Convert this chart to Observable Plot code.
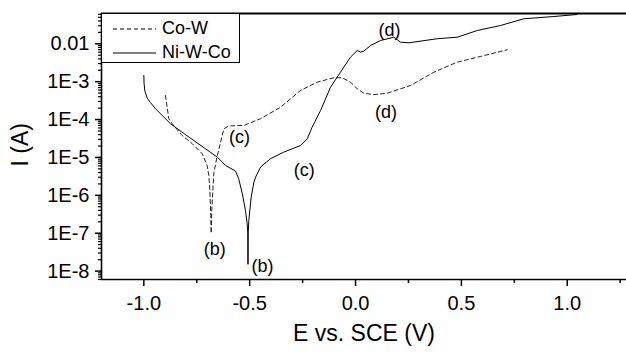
<!DOCTYPE html>
<html>
<head>
<meta charset="utf-8">
<script src="https://cdn.jsdelivr.net/npm/d3@7"></script>
<script src="https://cdn.jsdelivr.net/npm/@observablehq/plot@0.6"></script>
<style>
  body { margin: 0; background: #fff; }
  #chart { position: relative; width: 626px; height: 353px; font-family: "Liberation Sans", Arial, sans-serif; }
  #legend { position: absolute; left: 101px; top: 13px; width: 139px; height: 50px; box-sizing: border-box; border: 1.5px solid #000; background: #fff; }
  #legend .row { position: absolute; left: 0; height: 24px; width: 100%; }
  #legend svg { position: absolute; left: 11px; top: 7px; }
  #legend span { position: absolute; left: 60px; top: 1px; font-size: 18px; line-height: 20px; color: #000; }
</style>
</head>
<body>
<div id="chart"></div>
<script>
// ---------- data ----------
const seriesNames = ["Co-W", "Ni-W-Co"];

// Ni-W-Co (solid line): potential E (V vs. SCE) and current I (A)
const niE = [-1.000, -0.999, -0.995, -0.984, -0.969, -0.945, -0.874, -0.787, -0.709, -0.653, -0.614,
             -0.567, -0.552, -0.535, -0.520, -0.512, -0.509, -0.508, -0.507, -0.504, -0.493,
             -0.480, -0.472, -0.449, -0.402, -0.339, -0.260, -0.228, -0.205, -0.181, -0.165,
             -0.118, -0.071, -0.024, 0.008, 0.024, 0.039, 0.071, 0.118, 0.181, 0.213,
             0.252, 0.386, 0.480, 0.575, 0.685, 0.795, 0.937, 1.047];
const niI = [1.46e-3, 9.0e-4, 5.6e-4, 3.7e-4, 2.82e-4, 1.93e-4, 7.74e-5, 3.44e-5, 1.70e-5, 1.02e-5, 6.15e-6,
             4.37e-6, 2.75e-6, 1.12e-6, 4.00e-7, 1.82e-7, 1.0e-7, 1.51e-8, 1.0e-7, 2.18e-7, 8.97e-7,
             2.23e-6, 3.02e-6, 5.55e-6, 9.25e-6, 1.38e-5, 2.07e-5, 3.11e-5, 6.30e-5, 1.16e-4, 1.74e-4,
             7.16e-4, 1.78e-3, 4.43e-3, 6.65e-3, 6.00e-3, 6.38e-3, 9.02e-3, 1.22e-2, 1.49e-2, 1.10e-2,
             1.06e-2, 1.36e-2, 1.49e-2, 2.24e-2, 3.04e-2, 4.57e-2, 5.25e-2, 5.93e-2];

// Co-W (dashed line)
const coE = [-0.898, -0.882, -0.866, -0.819, -0.771, -0.724, -0.701, -0.693, -0.688, -0.684,
             -0.682, -0.679, -0.674, -0.669, -0.655, -0.638, -0.622, -0.598, -0.528, -0.449,
             -0.354, -0.260, -0.181, -0.103, -0.063, -0.024, 0.008, 0.039, 0.086, 0.150,
             0.260, 0.370, 0.480, 0.590, 0.717];
const coI = [4.31e-4, 1.05e-4, 7.74e-5, 3.80e-5, 2.30e-5, 1.25e-5, 6.15e-6, 3.35e-6, 1.35e-6, 2.95e-7,
             1.0e-7, 3.98e-7, 1.35e-6, 4.02e-6, 1.0e-5, 2.42e-5, 5.71e-5, 6.78e-5, 6.98e-5, 1.05e-4,
             2.12e-4, 5.86e-4, 9.70e-4, 1.27e-3, 1.27e-3, 9.70e-4, 6.50e-4, 4.98e-4, 4.54e-4, 4.98e-4,
             7.94e-4, 1.78e-3, 3.27e-3, 4.62e-3, 6.95e-3];

// annotations
const noteText = ["(b)", "(b)", "(c)", "(c)", "(d)", "(d)"];
const noteE    = [-0.665, -0.440, -0.548, -0.242, 0.161, 0.144];
const noteI    = [3.7e-8, 1.35e-8, 3.47e-5, 4.57e-6, 2.34e-2, 1.58e-4];

// axes
const xDomain = [-1.2, 1.28];
const yDomain = [6.0e-9, 6.3e-2];
const xTicks = [-1.0, -0.5, 0.0, 0.5, 1.0];
const xTickLabels = ["-1.0", "-0.5", "0.0", "0.5", "1.0"];
const xMinorTicks = [-0.75, -0.25, 0.25, 0.75, 1.25];
const yTicks = [1e-8, 1e-7, 1e-6, 1e-5, 1e-4, 1e-3, 1e-2];
const yTickLabels = ["1E-8", "1E-7", "1E-6", "1E-5", "1E-4", "1E-3", "0.01"];
const xLabel = "E vs. SCE (V)";
const yLabel = "I (A)";

// ---------- build ----------
const ni = niE.map((e, i) => ({E: e, I: niI[i]}));
const co = coE.map((e, i) => ({E: e, I: coI[i]}));
const notes = noteText.map((t, i) => ({E: noteE[i], I: noteI[i], t}));
const yMinor = [];
for (let p = -9; p <= -2; p++) for (let m = 2; m <= 9; m++) {
  const v = m * Math.pow(10, p);
  if (v >= yDomain[0] && v <= yDomain[1]) yMinor.push(v);
}
const xFmt = new Map(xTicks.map((t, i) => [t, xTickLabels[i]]));
const yFmt = new Map(yTicks.map((t, i) => [t, yTickLabels[i]]));

const chart = Plot.plot({
  width: 626,
  height: 353,
  marginLeft: 101,
  marginRight: 0,
  marginTop: 13,
  marginBottom: 74,
  style: {fontFamily: "'Liberation Sans', Arial, sans-serif", fontSize: "18px", color: "#000", background: "#fff"},
  x: {domain: xDomain},
  y: {type: "log", domain: yDomain},
  marks: [
    Plot.axisX({ticks: xTicks, tickFormat: d => xFmt.get(d), tickSize: 7, tickPadding: 9, fontSize: 20, strokeWidth: 1.5, label: null}),
    Plot.axisX({ticks: xMinorTicks, tickFormat: () => "", tickSize: 4, strokeWidth: 1.5, label: null}),
    Plot.axisY({ticks: yTicks, tickFormat: d => yFmt.get(d), tickSize: 6, tickPadding: 6, fontSize: 20, strokeWidth: 1.5, label: null}),
    Plot.axisY({ticks: yMinor, tickFormat: () => "", tickSize: 3, strokeWidth: 1.2, label: null}),
    Plot.ruleY([yDomain[0]], {stroke: "#000", strokeWidth: 1.6}),
    Plot.ruleY([yDomain[1]], {stroke: "#000", strokeWidth: 2}),
    Plot.ruleX([xDomain[0]], {stroke: "#000", strokeWidth: 1.6}),
    Plot.line(co, {x: "E", y: "I", stroke: "#222", strokeWidth: 1, strokeDasharray: "4,3"}),
    Plot.line(ni, {x: "E", y: "I", stroke: "#000", strokeWidth: 1}),
    Plot.text(notes, {x: "E", y: "I", text: "t", fontSize: 18, fill: "#000"}),
    Plot.text([xLabel], {frameAnchor: "bottom", dy: 61, fontSize: 23, fill: "#000"}),
    Plot.text([yLabel], {frameAnchor: "left", dx: -81, dy: 20, rotate: -90, fontSize: 23, fill: "#000"})
  ]
});
const root = document.getElementById("chart");
root.appendChild(chart);

// legend
const legend = document.createElement("div");
legend.id = "legend";
const dashes = ["4,3", null];
seriesNames.forEach((name, i) => {
  const row = document.createElement("div");
  row.className = "row";
  row.style.top = (3 + i * 24) + "px";
  const dash = dashes[i] ? ` stroke-dasharray="${dashes[i]}"` : "";
  row.innerHTML = `<svg width="43" height="10"><line x1="0" y1="5" x2="43" y2="5" stroke="#000" stroke-width="1"${dash}/></svg><span>${name}</span>`;
  legend.appendChild(row);
});
root.appendChild(legend);
</script>
</body>
</html>
